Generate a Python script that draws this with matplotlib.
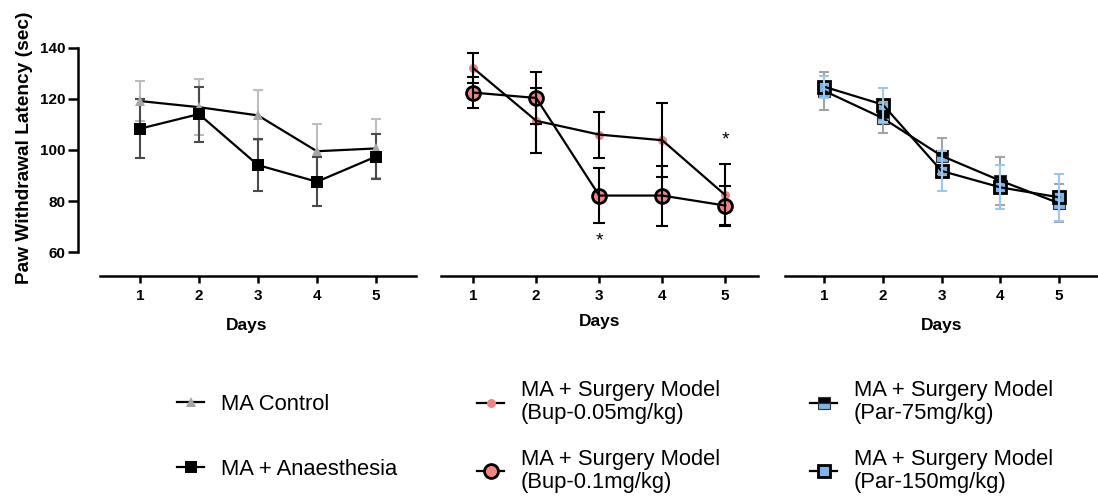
import matplotlib
matplotlib.use("Agg")
import matplotlib.pyplot as plt
from matplotlib.lines import Line2D

plt.rcParams['font.family'] = ['Liberation Sans', 'DejaVu Sans']

days = [1, 2, 3, 4, 5]

# panel 1
control_mean = [119.1, 116.7, 113.5, 99.5, 100.6]
control_err = [7.8, 10.9, 9.8, 10.8, 11.5]
anaes_mean = [108.3, 114.0, 94.1, 87.6, 97.4]
anaes_err = [11.5, 10.7, 10.2, 9.5, 8.7]

# panel 2
bup005_mean = [132.0, 111.4, 106.0, 103.8, 82.4]
bup005_err = [6.0, 12.7, 9.0, 14.4, 12.1]
bup01_mean = [122.4, 120.3, 82.2, 82.2, 78.3]
bup01_err = [6.2, 10.0, 10.7, 11.7, 7.7]
star_days = [3, 5]
star_y = [64.4, 103.9]

# panel 3
par75_mean = [123.1, 112.4, 97.7, 88.0, 79.2]
par75_err = [7.5, 5.9, 7.1, 9.3, 7.5]
par150_mean = [124.7, 117.7, 91.8, 85.4, 81.5]
par150_err = [4.3, 6.6, 7.8, 8.6, 9.3]

labels = ["MA Control", "MA + Anaesthesia",
          "MA + Surgery Model\n(Bup-0.05mg/kg)", "MA + Surgery Model\n(Bup-0.1mg/kg)",
          "MA + Surgery Model\n(Par-75mg/kg)", "MA + Surgery Model\n(Par-150mg/kg)"]

PINK = "#f08585"
BLUE = "#7fb4ea"
W, H = 1098, 496

styles = {
    "control": dict(marker="^", ms=7, mfc="#a6a6a6", mec="#a6a6a6", mew=0),
    "anaes": dict(marker="s", ms=8, mfc="black", mec="black", mew=0),
    "bup005": dict(marker="o", ms=6.5, mfc=PINK, mec=PINK, mew=0),
    "bup01": dict(marker="o", ms=10, mfc=PINK, mec="black", mew=2),
    "par75": dict(marker="s", ms=8, fillstyle="top", mfc="black", mfcalt=BLUE, mec="#333333", mew=0.8),
    "par150": dict(marker="s", ms=9, mfc=BLUE, mec="black", mew=2),
}

fig = plt.figure(figsize=(W / 100, H / 100), dpi=100)

bottom = 1 - 276 / H
height = (276 - 47.5) / H
ax1 = fig.add_axes([78 / W, bottom, 338 / W, height])
ax2 = fig.add_axes([441 / W, bottom, 317 / W, height])
ax3 = fig.add_axes([785 / W, bottom, 313 / W, height])


def style_axis(ax, xlim, xstart, show_y, xlabelpad):
    ax.set_xlim(*xlim)
    ax.set_ylim(50.8, 140)
    ax.spines['top'].set_visible(False)
    ax.spines['right'].set_visible(False)
    ax.spines['bottom'].set_linewidth(1.8)
    ax.spines['bottom'].set_bounds(xstart, xlim[1])
    ax.set_xticks(days)
    ax.tick_params(axis='x', length=5, width=1.8, pad=4, labelsize=11)
    for t in ax.get_xticklabels():
        t.set_fontweight('bold')
    if show_y:
        ax.spines['left'].set_linewidth(1.8)
        ax.spines['left'].set_bounds(60, 140)
        ax.set_yticks([60, 80, 100, 120, 140])
        ax.tick_params(axis='y', length=7, width=1.8, pad=2, labelsize=11)
        for t in ax.get_yticklabels():
            t.set_fontweight('bold')
    else:
        ax.spines['left'].set_visible(False)
        ax.set_yticks([])
    ax.set_xlabel("Days", fontsize=12.5, fontweight='bold', labelpad=xlabelpad)


def series(ax, mean, err, ecolor, st, bars_on_top, capsize=3.6):
    ez = 4 if bars_on_top else 2
    ax.errorbar(days, mean, yerr=err, fmt='none', ecolor=ecolor, elinewidth=1.5,
                capsize=capsize, capthick=1.5, zorder=ez, clip_on=False)
    ax.plot(days, mean, color="black", lw=1.6, zorder=3, clip_on=False)
    ax.plot(days, mean, linestyle='none', zorder=3.5 if not bars_on_top else 2.5,
            clip_on=False, **st)


# panel 1
series(ax1, control_mean, control_err, "#bdbdbd", styles["control"], False)
series(ax1, anaes_mean, anaes_err, "#4a4a4a", styles["anaes"], False)
style_axis(ax1, (-0.05, 5.68), 0.32, True, 11.5)
ax1.set_ylabel("Paw Withdrawal Latency (sec)", fontsize=13.8, fontweight='bold')
ax1.yaxis.set_label_coords(-0.133, 0.56)

# panel 2
series(ax2, bup005_mean, bup005_err, "black", styles["bup005"], True, capsize=4.3)
series(ax2, bup01_mean, bup01_err, "black", styles["bup01"], True, capsize=4.3)
for d, y in zip(star_days, star_y):
    ax2.text(d, y, "*", ha='center', va='center', fontsize=14)
style_axis(ax2, (0.49, 5.52), 0.49, False, 8)

# panel 3
series(ax3, par75_mean, par75_err, "#a3a3a3", styles["par75"], True)
series(ax3, par150_mean, par150_err, "#9cc8f0", styles["par150"], True)
style_axis(ax3, (0.336, 5.66), 0.336, False, 11.5)


def handle(key):
    st = dict(styles[key])
    return Line2D([], [], color="black", lw=1.6, **st)


legend_cols = [
    (["control", "anaes"], labels[0:2], 177, 394, 2.0),
    (["bup005", "bup01"], labels[2:4], 477, 380, 1.1),
    (["par75", "par150"], labels[4:6], 810, 380, 1.1),
]
for keys, labs, lx, ly, spacing in legend_cols:
    leg = fig.legend([handle(k) for k in keys], labs, loc='upper left',
                     bbox_to_anchor=(lx / W, 1 - ly / H), frameon=False,
                     fontsize=15.8, handlelength=1.25, handletextpad=0.75,
                     labelspacing=spacing, borderpad=0, borderaxespad=0)
    for t in leg.get_texts():
        t.set_linespacing(1.15)

fig.savefig("out.png", dpi=100)
